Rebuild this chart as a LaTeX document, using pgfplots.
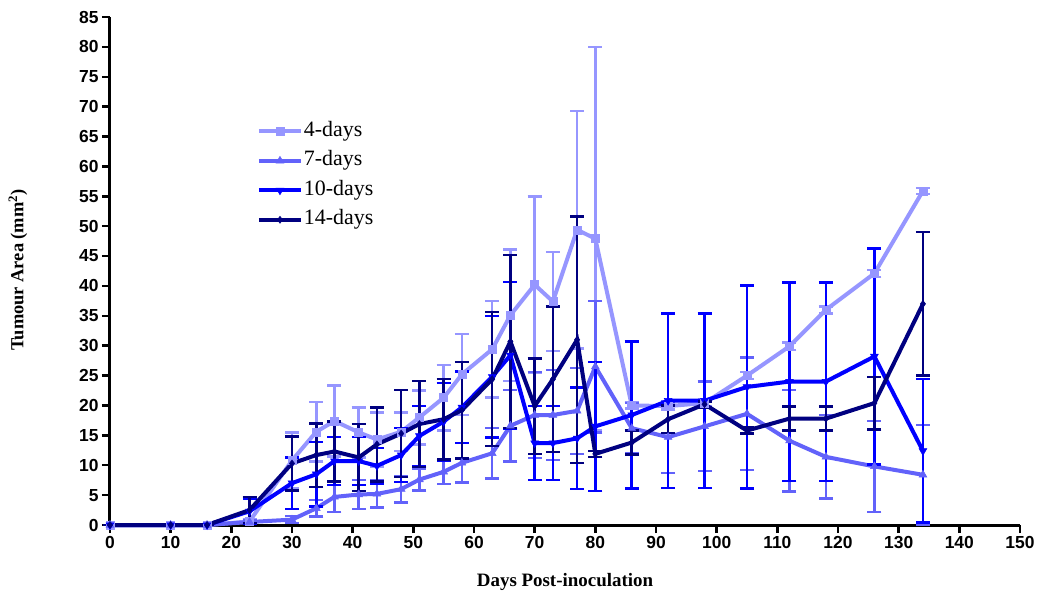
\documentclass[border=0pt]{standalone}
\usepackage{fontspec}
\setmainfont{Liberation Serif}
\setsansfont{Liberation Sans}
\usepackage{pgfplots}
\usepackage{pgfplotstable}
\pgfplotsset{compat=1.18}
\definecolor{cA}{RGB}{150,150,255}
\definecolor{cB}{RGB}{98,98,250}
\definecolor{cC}{RGB}{0,0,255}
\definecolor{cD}{RGB}{0,0,128}
\pgfplotstableread{
x y e
0 0 0
10 0 0
16 0 0
23 0.6 0.3
30 10.8 4.7
34 15.6 5.0
37 17.4 5.9
41 15.5 4.2
44 14.3 4.5
48 15.6 3.2
51 18.0 4.5
55 21.3 5.5
58 25.2 6.8
63 29.4 8.1
66 35.1 11.0
70 40.2 14.8
73 37.4 8.3
77 49.4 19.9
80 47.9 32.1
86 20.0 0.5
92 19.9 0.6
98 20.4 0.6
105 25.0 0.6
112 29.9 0.6
118 36.0 0.6
126 42.1 0.6
134 55.9 0.5
}\tabA
\pgfplotstableread{
x y e
0 0 0
10 0 0
16 0 0
23 0.5 0.3
30 0.9 0.6
34 2.8 1.4
37 4.7 2.5
41 5.1 2.4
44 5.2 2.3
48 6.0 2.2
51 7.6 1.8
55 8.9 2.0
58 10.4 3.3
63 12.0 4.2
66 16.6 6.0
70 18.4 7.2
73 18.4 7.5
77 19.1 7.2
80 26.5 11.0
86 16.2 4.2
92 14.7 6.0
98 16.5 7.5
105 18.6 9.4
112 14.1 8.5
118 11.4 7.0
126 9.8 7.6
134 8.4 8.3
}\tabB
\pgfplotstableread{
x y e
0 0 0
10 0 0
16 0 0
23 2.3 2.1
30 7.0 4.3
34 8.5 5.4
37 10.7 4.0
41 10.7 4.0
44 9.9 3.0
48 11.7 4.5
51 14.9 5.0
55 17.3 6.5
58 19.7 6.0
63 24.8 10.2
66 28.4 12.3
70 13.7 6.2
73 13.7 6.2
77 14.5 8.5
80 16.5 10.8
86 18.4 12.3
92 20.8 14.6
98 20.8 14.6
105 23.1 17.0
112 24.0 16.6
118 24.0 16.6
126 28.2 18.1
134 12.4 12.0
}\tabC
\pgfplotstableread{
x y e
0 0 0
10 0 0
16 0 0
23 2.5 2.2
30 10.3 4.5
34 11.7 5.3
37 12.3 5.0
41 11.3 5.6
44 13.5 6.2
48 15.3 7.3
51 16.9 7.2
55 17.7 6.7
58 19.2 8.1
63 24.4 11.2
66 30.7 14.5
70 19.9 8.0
73 24.4 12.2
77 31.0 20.6
80 11.9 0.5
86 13.8 2.0
92 17.7 2.3
98 20.2 0.5
105 15.8 0.5
112 17.8 2.0
118 17.8 2.0
126 20.4 4.4
134 37.0 12.0
}\tabD
\begin{document}
\begin{tikzpicture}
\useasboundingbox (-110bp,-74bp) rectangle (927bp,525bp);
\begin{axis}[
  at={(0,0)}, anchor=south west,
  scale only axis, width=910bp, height=508bp,
  xmin=0, xmax=150, ymin=0, ymax=85,
  clip=false,
  axis x line=bottom, axis y line=left,
  axis line style={line width=3bp, -},
  xtick={0,10,...,150}, ytick={0,5,...,85},
  tick align=outside, major tick length=8bp,
  major tick style={line width=2.5bp, black},
  /pgf/number format/assume math mode=true,
  ticklabel style={font=\fontsize{17.5}{17.5}\selectfont\sffamily\bfseries},
  legend style={draw=none, fill=none, at={(0.158,0.801)}, anchor=north west,
    font=\fontsize{22}{22}\selectfont, row sep=7.5bp,
    nodes={inner sep=1bp, text height=15bp, text depth=5bp},
    cells={anchor=west}},
  legend image code/.code={\draw[mark repeat=2,mark phase=2,#1] plot coordinates {(0bp,0bp) (21bp,0bp) (42bp,0bp)};},
  every axis plot/.append style={line width=4bp},
  error bars/error bar style={line width=2.5bp, solid},
  error bars/error mark options={rotate=90, mark size=7bp, line width=2.5bp},
]
\addplot[color=cA, mark=square*, mark size=4bp, mark options={solid, line width=0.5bp},
  error bars/.cd, y dir=both, y explicit] table[x=x, y=y, y error=e] {\tabA};
\addlegendentry{4-days}
\addplot[color=cB, mark=triangle*, mark size=4.5bp, mark options={solid, line width=0.5bp},
  error bars/.cd, y dir=both, y explicit] table[x=x, y=y, y error=e] {\tabB};
\addlegendentry{7-days}
\addplot[color=cC, mark=triangle*, mark size=4.5bp, mark options={solid, line width=0.5bp, rotate=180},
  error bars/.cd, y dir=both, y explicit] table[x=x, y=y, y error=e] {\tabC};
\addlegendentry{10-days}
\addplot[color=cD, mark=diamond*, mark size=3.5bp, mark options={solid, line width=0.5bp},
  error bars/.cd, y dir=both, y explicit] table[x=x, y=y, y error=e] {\tabD};
\addlegendentry{14-days}
\end{axis}
\node[font=\fontsize{19}{19}\selectfont\bfseries] at (455bp,-57bp) {Days Post-inoculation};
\node[font=\fontsize{18.5}{18.5}\selectfont\bfseries, rotate=90] at (-92bp,255bp) {Tumour Area (mm\textsuperscript{2})};
\end{tikzpicture}
\end{document}
